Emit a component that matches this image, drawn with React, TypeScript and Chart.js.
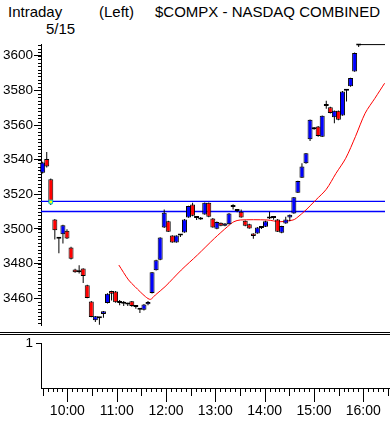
import React, { useEffect, useRef } from "react";
import { Chart, registerables } from "chart.js";

Chart.register(...registerables);

// ---------- data ----------
const candleTimes = [
  "9:30", "9:35", "9:40", "9:45", "9:50", "9:55",
  "10:00", "10:05", "10:10", "10:15", "10:20", "10:25", "10:30", "10:35", "10:40", "10:45", "10:50", "10:55",
  "11:00", "11:05", "11:10", "11:15", "11:20", "11:25", "11:30", "11:35", "11:40", "11:45", "11:50", "11:55",
  "12:00", "12:05", "12:10", "12:15", "12:20", "12:25", "12:30", "12:35", "12:40", "12:45", "12:50", "12:55",
  "13:00", "13:05", "13:10", "13:15", "13:20", "13:25", "13:30", "13:35", "13:40", "13:45", "13:50", "13:55",
  "14:00", "14:05", "14:10", "14:15", "14:20", "14:25", "14:30", "14:35", "14:40", "14:45", "14:50", "14:55",
  "15:00", "15:05", "15:10", "15:15", "15:20", "15:25", "15:30", "15:35", "15:40", "15:45", "15:50", "15:55",
  "16:00",
];

const opens = [
  3532.5, 3540.4, 3528.7, 3505.5, 3494.8, 3497.0, 3499.0, 3489.3, 3476.6, 3475.4,
  3477.2, 3467.5, 3458.1, 3447.3, 3448.9, 3451.0, 3457.3, 3464.2, 3464.0, 3457.7,
  3457.2, 3456.8, 3458.3, 3455.3, 3453.7, 3453.4, 3456.6, 3463.1, 3476.2, 3482.2,
  3500.9, 3504.5, 3496.2, 3492.2, 3496.5, 3498.0, 3506.7, 3514.2, 3506.7, 3505.5,
  3508.4, 3515.1, 3506.1, 3500.1, 3503.6, 3501.8, 3502.8, 3512.9, 3510.6, 3509.9,
  3504.7, 3502.8, 3497.4, 3497.4, 3500.8, 3501.3, 3506.2, 3506.6, 3505.5, 3497.8,
  3503.2, 3506.7, 3509.0, 3520.9, 3529.6, 3537.9, 3551.8, 3558.5, 3559.2, 3553.3,
  3571.2, 3570.3, 3564.5, 3568.2, 3565.5, 3580.0, 3582.3, 3590.9, 3606.1,
];
const highs = [
  3538.8, 3544.4, 3529.2, 3505.8, 3495.0, 3502.4, 3499.8, 3489.8, 3477.0, 3479.1,
  3477.4, 3467.8, 3458.4, 3449.8, 3449.0, 3452.7, 3462.9, 3464.4, 3464.2, 3459.0,
  3458.5, 3457.5, 3458.5, 3455.8, 3454.0, 3456.7, 3458.5, 3475.2, 3482.2, 3495.3,
  3511.3, 3504.8, 3496.4, 3496.4, 3496.9, 3505.7, 3513.4, 3515.1, 3507.3, 3506.9,
  3515.3, 3515.3, 3506.3, 3504.3, 3503.8, 3503.4, 3509.2, 3514.3, 3511.2, 3511.3,
  3504.9, 3503.0, 3497.6, 3501.1, 3501.2, 3504.7, 3509.9, 3507.5, 3505.7, 3501.9,
  3507.0, 3508.4, 3518.5, 3527.9, 3537.9, 3543.9, 3563.2, 3558.8, 3559.4, 3565.5,
  3574.0, 3570.5, 3568.4, 3568.4, 3579.6, 3580.3, 3587.3, 3601.8, 3606.4,
];
const lows = [
  3532.0, 3535.5, 3513.8, 3494.0, 3486.0, 3491.6, 3494.2, 3482.4, 3474.8, 3474.3,
  3468.9, 3460.0, 3449.0, 3446.3, 3444.8, 3448.8, 3457.0, 3458.8, 3457.5, 3456.0,
  3455.5, 3455.5, 3455.2, 3454.0, 3451.5, 3453.0, 3456.0, 3462.8, 3476.0, 3482.0,
  3500.6, 3498.2, 3492.0, 3492.0, 3495.4, 3497.8, 3506.5, 3507.4, 3505.2, 3505.3,
  3508.2, 3506.8, 3500.7, 3499.9, 3501.6, 3501.6, 3502.6, 3511.3, 3509.6, 3506.5,
  3501.6, 3500.1, 3494.3, 3497.2, 3500.0, 3501.1, 3505.8, 3505.4, 3498.2, 3497.6,
  3503.0, 3504.5, 3508.8, 3520.7, 3529.4, 3537.7, 3550.8, 3557.3, 3553.3, 3553.1,
  3569.4, 3566.7, 3561.0, 3562.8, 3565.3, 3573.6, 3582.1, 3590.7, 3605.0,
];
const closes = [
  3538.3, 3536.0, 3515.1, 3499.3, 3494.4, 3502.2, 3494.5, 3482.9, 3475.0, 3475.0,
  3472.9, 3460.2, 3449.2, 3449.6, 3448.5, 3452.5, 3462.7, 3462.7, 3457.7, 3457.3,
  3456.9, 3456.4, 3455.6, 3455.0, 3453.4, 3456.5, 3457.9, 3475.0, 3482.0, 3495.1,
  3509.4, 3498.4, 3492.2, 3496.2, 3496.2, 3505.5, 3513.2, 3507.6, 3506.4, 3506.7,
  3515.1, 3507.0, 3500.9, 3504.1, 3501.8, 3503.2, 3509.0, 3512.7, 3510.4, 3506.7,
  3501.8, 3500.3, 3495.9, 3500.9, 3500.6, 3504.5, 3506.0, 3506.4, 3498.4, 3501.7,
  3505.5, 3508.2, 3518.3, 3527.7, 3536.0, 3543.7, 3563.0, 3557.6, 3553.6, 3565.3,
  3571.0, 3566.9, 3568.2, 3563.0, 3579.4, 3579.8, 3587.1, 3601.6, 3605.9,
];

const maTimes = [
  "11:04", "11:16", "11:24", "11:37", "11:43", "11:49", "12:01", "12:21", "12:41", "13:02",
  "13:18", "13:26", "13:34", "14:07", "14:23", "14:39", "14:43", "14:55", "15:07", "15:20",
  "15:32", "15:44", "15:56", "16:08", "16:20", "16:32",
];
const maValues = [
  3479.2, 3470.6, 3466.7, 3460.9, 3459.4, 3461.9, 3466.7, 3476.3, 3485.0, 3494.6,
  3501.3, 3504.2, 3505.2, 3505.2, 3504.2, 3505.2, 3506.2, 3511.0, 3516.7, 3522.9,
  3532.1, 3540.8, 3553.3, 3566.8, 3575.4, 3584.1,
];

const refLevels = [3515.9, 3510.1];
const lastPrice = 3606.4;
const lastPriceFrom = "15:58";
const markerTime = "9:40";
const markerValue = 3515.6;

const priceTickStep = 20;
const hourTickLabels = ["10:00", "11:00", "12:00", "13:00", "14:00", "15:00", "16:00"];
const lowerPanelTick = "1";

const titleLeft = "Intraday";
const titleMid = "(Left)";
const titleRight = "$COMPX - NASDAQ COMBINED";
const titleDate = "5/15";

// ---------- helpers ----------
const toMin = (s: string) => {
  const [h, m] = s.split(":").map(Number);
  return h * 60 + m;
};

const X_MIN = 567.93;
const X_MAX = 992.5;
const Y_MIN = 3444.6;
const Y_MAX = 3606.75;

const AXIS_FONT = '"Liberation Sans", Arial, sans-serif';
const BLUE = "#0000ff";
const RED = "#ff0000";

const yMinorTicks = {
  id: "yMinorTicks",
  afterDraw(chart: any) {
    const y = chart.scales.y;
    const ctx = chart.ctx;
    const left = chart.chartArea.left;
    ctx.save();
    ctx.fillStyle = "#000";
    for (let v = Math.ceil(y.min / 2) * 2; v <= y.max; v += 2) {
      const py = Math.round(y.getPixelForValue(v));
      ctx.fillRect(left - 3, py, 3, 1);
    }
    ctx.restore();
  },
};

const lowerPanelDecor = {
  id: "lowerPanelDecor",
  afterDraw(chart: any) {
    const ctx = chart.ctx;
    const x = chart.scales.x;
    const bottom = Math.round(chart.chartArea.bottom);
    ctx.save();
    ctx.fillStyle = "#000";
    ctx.fillRect(0, 2, chart.width, 1);
    ctx.fillRect(0, 4, chart.width, 1);
    for (let t = 570; t <= x.max; t += 6) {
      const px = Math.round(x.getPixelForValue(t));
      const len = t % 60 === 0 ? 14 : t % 30 === 0 ? 8 : 4;
      ctx.fillRect(px, bottom, 1, len);
    }
    ctx.restore();
  },
};

export default function App() {
  const priceRef = useRef<HTMLCanvasElement>(null);
  const lowerRef = useRef<HTMLCanvasElement>(null);

  useEffect(() => {
    const times = candleTimes.map(toMin);
    const bodies = times.map((t, i) => ({ x: t, y: [opens[i], closes[i]] }));
    const wicks = times.map((t, i) => ({ x: t, y: [lows[i], highs[i]] }));
    const bodyColors = times.map((_, i) =>
      Math.abs(closes[i] - opens[i]) < 0.9 ? "#000" : closes[i] >= opens[i] ? BLUE : RED
    );
    const ma = maTimes.map((t, i) => ({ x: toMin(t), y: maValues[i] }));

    const priceChart = new Chart(priceRef.current as HTMLCanvasElement, {
      type: "bar",
      data: {
        datasets: [
          {
            type: "line",
            data: [{ x: toMin(markerTime), y: markerValue }],
            showLine: false,
            pointStyle: "rect",
            pointRadius: 2.5,
            backgroundColor: "#ffff00",
            borderColor: "#00d0d0",
            borderWidth: 1,
            order: 0,
          } as any,
          {
            type: "line",
            data: [
              { x: toMin(lastPriceFrom), y: lastPrice },
              { x: X_MAX, y: lastPrice },
            ],
            borderColor: "#000",
            borderWidth: 1,
            pointRadius: 0,
            order: 1,
          } as any,
          {
            data: bodies as any,
            backgroundColor: bodyColors,
            borderColor: "#000",
            borderWidth: 1,
            borderSkipped: false,
            barThickness: 5,
            minBarLength: 2,
            grouped: false,
            inflateAmount: 0,
            clip: false,
            order: 2,
          } as any,
          {
            data: wicks as any,
            backgroundColor: "#000",
            borderWidth: 0,
            barThickness: 1,
            grouped: false,
            inflateAmount: 0,
            clip: false,
            order: 3,
          } as any,
          {
            type: "line",
            data: ma,
            borderColor: RED,
            borderWidth: 1,
            pointRadius: 0,
            tension: 0.3,
            order: 4,
          } as any,
          ...refLevels.map(
            (v) =>
              ({
                type: "line",
                data: [
                  { x: X_MIN, y: v },
                  { x: X_MAX, y: v },
                ],
                borderColor: BLUE,
                borderWidth: 1.3,
                pointRadius: 0,
                order: 5,
              } as any)
          ),
        ],
      },
      options: {
        animation: false,
        responsive: false,
        maintainAspectRatio: false,
        events: [],
        layout: { padding: { top: 44, bottom: 10, left: 0, right: 0 } },
        plugins: { legend: { display: false }, tooltip: { enabled: false } },
        scales: {
          x: { type: "linear", min: X_MIN, max: X_MAX, offset: false, display: false },
          y: {
            type: "linear",
            position: "left",
            min: Y_MIN,
            max: Y_MAX,
            beginAtZero: false,
            afterFit: (s: any) => {
              s.width = 41;
            },
            ticks: {
              stepSize: priceTickStep,
              includeBounds: false,
              color: "#000",
              padding: 1,
              font: { family: AXIS_FONT, size: 13.5 },
              callback: (v: any) => String(v),
            },
            grid: { drawOnChartArea: false, tickLength: 7, color: "#000" },
            border: { display: true, color: "#000", width: 1 },
          },
        },
      } as any,
      plugins: [yMinorTicks],
    });

    const lowerChart = new Chart(lowerRef.current as HTMLCanvasElement, {
      type: "line",
      data: { datasets: [] },
      options: {
        animation: false,
        responsive: false,
        maintainAspectRatio: false,
        events: [],
        layout: { padding: { top: 13, bottom: 2, left: 0, right: 0 } },
        plugins: { legend: { display: false }, tooltip: { enabled: false } },
        scales: {
          x: {
            type: "linear",
            min: X_MIN,
            max: X_MAX,
            offset: false,
            afterBuildTicks: (s: any) => {
              s.ticks = hourTickLabels.map((l) => ({ value: toMin(l) }));
            },
            ticks: {
              color: "#000",
              padding: 0,
              maxRotation: 0,
              autoSkip: false,
              font: { family: AXIS_FONT, size: 14 },
              callback: (v: any) => {
                const found = hourTickLabels.find((l) => toMin(l) === v);
                return found ?? "";
              },
            },
            grid: { drawOnChartArea: false, tickLength: 15, color: "rgba(0,0,0,0)" },
            border: { display: true, color: "#000", width: 1 },
          },
          y: {
            type: "linear",
            min: 0,
            max: 1,
            afterFit: (s: any) => {
              s.width = 41;
            },
            afterBuildTicks: (s: any) => {
              s.ticks = [{ value: 1 }];
            },
            ticks: {
              color: "#000",
              padding: 3,
              font: { family: AXIS_FONT, size: 13.5 },
              callback: () => lowerPanelTick,
            },
            grid: { drawOnChartArea: false, tickLength: 5, color: "#000" },
            border: { display: true, color: "#000", width: 1 },
          },
        },
      } as any,
      plugins: [lowerPanelDecor],
    });

    return () => {
      priceChart.destroy();
      lowerChart.destroy();
    };
  }, []);

  const titleStyle: React.CSSProperties = {
    position: "absolute",
    font: '15px "Liberation Sans", Arial, sans-serif',
    lineHeight: "15px",
    whiteSpace: "nowrap",
    color: "#000",
  };

  return (
    <div
      style={{
        position: "absolute",
        left: 0,
        top: 0,
        width: 390,
        height: 422,
        background: "#fff",
        overflow: "hidden",
      }}
    >
      <div style={{ ...titleStyle, left: 8, top: 4 }}>{titleLeft}</div>
      <div style={{ ...titleStyle, left: 99, top: 4 }}>{titleMid}</div>
      <div style={{ ...titleStyle, left: 155, top: 4 }}>{titleRight}</div>
      <div style={{ ...titleStyle, left: 46, top: 21 }}>{titleDate}</div>
      <canvas
        ref={priceRef}
        width={390}
        height={335}
        style={{ position: "absolute", left: 0, top: 0, width: 390, height: 335 }}
      />
      <canvas
        ref={lowerRef}
        width={390}
        height={92}
        style={{ position: "absolute", left: 0, top: 330, width: 390, height: 92 }}
      />
    </div>
  );
}
